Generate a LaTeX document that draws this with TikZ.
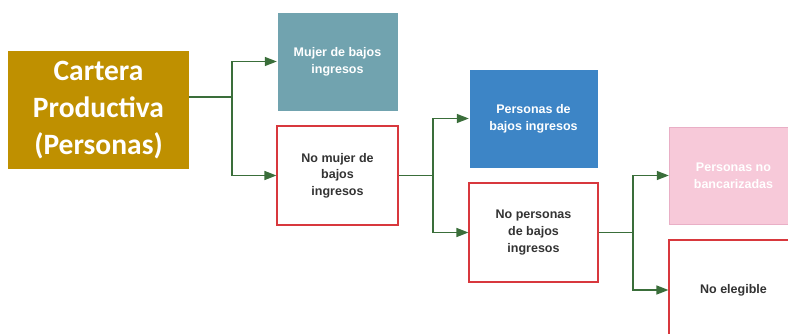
\documentclass[tikz,border=0pt]{standalone}
\usepackage{fontspec}
\setsansfont{Liberation Sans}
\newfontfamily\cartfont{Carlito}
\usetikzlibrary{arrows.meta}
\definecolor{cartgold}{HTML}{BF9000}
\definecolor{tealfill}{HTML}{71A3AF}
\definecolor{bluefill}{HTML}{3D85C6}
\definecolor{pinkfill}{HTML}{F7C9D9}
\definecolor{pinkline}{HTML}{E9AFC6}
\definecolor{noline}{HTML}{D8383D}
\definecolor{linkgreen}{HTML}{3A6E3A}
\definecolor{darktext}{HTML}{333333}
\tikzstyle{box}=[rectangle, inner sep=2pt, align=center,
                 font=\sffamily\bfseries\fontsize{12.5}{16.7}\selectfont]
\tikzstyle{yesbox}=[box, text=white, draw=white]
\tikzstyle{nobox}=[box, draw=noline, line width=1.1pt, fill=white, text=darktext]
\tikzstyle{link}=[-{Triangle[length=12pt,width=9pt]}, draw=linkgreen, line width=1.4pt]

\begin{document}
\begin{tikzpicture}[x=1pt, y=-1pt]
      \useasboundingbox (0,0) rectangle (788,334);
      \clip (0,0) rectangle (788,334);
      % root
      \node[rectangle, fill=cartgold, text=white, align=center,
            minimum width=181pt, minimum height=118pt,
            font=\cartfont\bfseries\fontsize{29.5}{37}\selectfont]
	(cartera) at (98.5,110) {Cartera\\Productiva\\(Personas)};
      % first split
      \node[yesbox, fill=tealfill, minimum width=121pt, minimum height=99pt]
	(mujer) at (337.5,61.5) {Mujer de bajos\\ingresos};
      \node[nobox, minimum width=121pt, minimum height=99pt]
	(nomujer) at (337.5,175.5) {No mujer de\\bajos\\ingresos};
      % second split
      \node[yesbox, fill=bluefill, minimum width=129pt, minimum height=99pt]
	(bajos) at (533.5,118.5) {Personas de\\bajos ingresos};
      \node[nobox, minimum width=129pt, minimum height=99pt]
	(nobajos) at (533.5,232.5) {No personas\\de bajos\\ingresos};
      % third split
      \node[yesbox, fill=pinkfill, draw=pinkline, minimum width=129pt, minimum height=97pt]
	(bancar) at (733.5,175.5) {Personas no\\bancarizadas};
      \node[nobox, minimum width=129pt, minimum height=100pt]
	(noeleg) at (733.5,290) {No elegible};
      \coordinate (f1) at (232,97);
      \coordinate (f2) at (433,175.5);
      \coordinate (f3) at (633,232.5);
	\draw[draw=linkgreen, line width=1.4pt] (cartera.east |- f1) -- (f1);
	\draw[link] (f1) |- (mujer);
	\draw[link] (f1) |- (nomujer);
	\draw[draw=linkgreen, line width=1.4pt] (nomujer) -- (f2);
	\draw[link] (f2) |- (bajos);
	\draw[link] (f2) |- (nobajos);
	\draw[draw=linkgreen, line width=1.4pt] (nobajos) -- (f3);
	\draw[link] (f3) |- (bancar);
	\draw[link] (f3) |- (noeleg);
    \end{tikzpicture}
\end{document}
